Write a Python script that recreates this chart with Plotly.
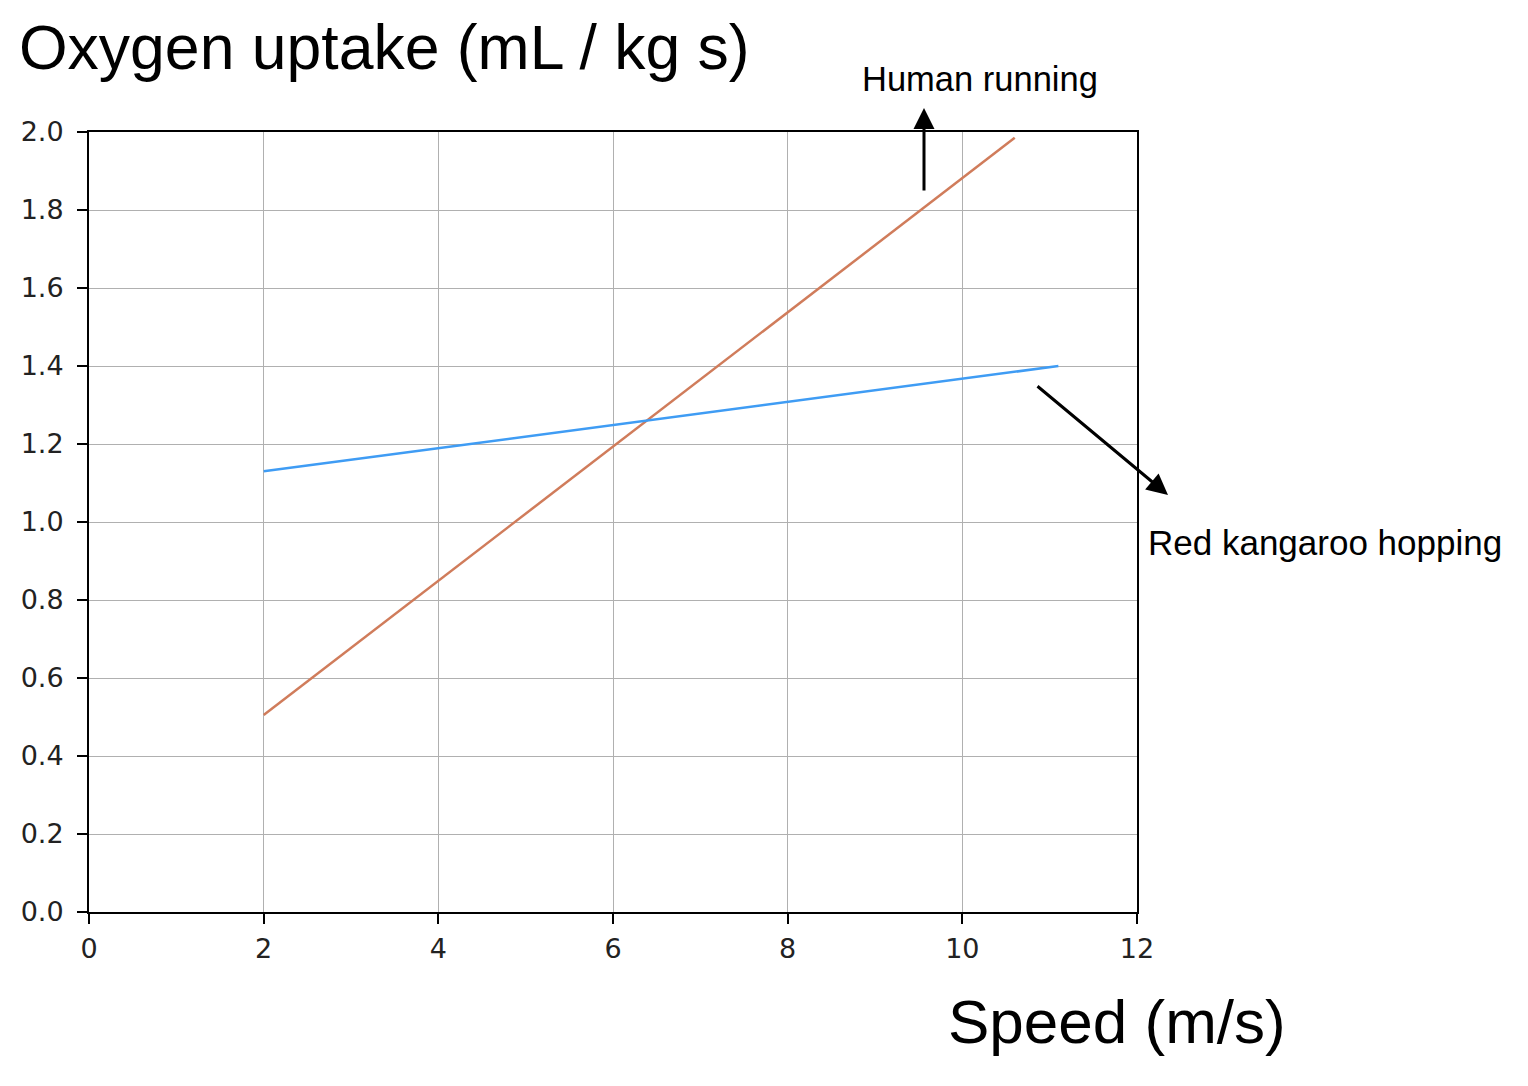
import plotly.graph_objects as go

# Data
speed_human = [2.0, 10.6]
o2_human = [0.505, 1.985]
speed_kangaroo = [2.0, 11.1]
o2_kangaroo = [1.13, 1.40]

x_ticks = [0, 2, 4, 6, 8, 10, 12]
y_ticks = [0.0, 0.2, 0.4, 0.6, 0.8, 1.0, 1.2, 1.4, 1.6, 1.8, 2.0]

OFF = 8  # page body margin
W, H = 1528 - OFF, 1086 - OFF
L, R, T, B = 89 - OFF, 1137 - OFF, 132 - OFF, 912 - OFF

def px(x):
    return (x - OFF - L) / (R - L)

def py(y):
    return (B - (y - OFF)) / (B - T)

fig = go.Figure()
fig.add_trace(go.Scatter(x=speed_human, y=o2_human, mode="lines",
                         line=dict(color="#d07c5b", width=2.5), showlegend=False))
fig.add_trace(go.Scatter(x=speed_kangaroo, y=o2_kangaroo, mode="lines",
                         line=dict(color="#3f9cf4", width=2.5), showlegend=False))

tick_font = dict(family="DejaVu Sans", size=27, color="#222222")
label_font = "Liberation Sans, Arial, Helvetica, sans-serif"

axis_common = dict(showgrid=True, gridcolor="#b0b0b0", gridwidth=1, zeroline=False,
                   showline=True, linecolor="black", linewidth=2, mirror=True,
                   ticks="outside", ticklen=10, tickwidth=2, tickcolor="black",
                   tickfont=tick_font)

fig.update_layout(
    width=W, height=H,
    margin=dict(l=L, r=W - R, t=T, b=H - B),
    paper_bgcolor="white", plot_bgcolor="white",
    xaxis=dict(range=[0, 12], tickvals=x_ticks, ticktext=[str(v) for v in x_ticks],
               ticklabelstandoff=2, **axis_common),
    yaxis=dict(range=[0, 2.0], tickvals=y_ticks, ticktext=[f"{v:.1f}" for v in y_ticks],
               ticklabelstandoff=8, **axis_common),
)

annotations = [
    dict(text="Oxygen uptake (mL / kg s)", xref="paper", yref="paper",
         x=px(17), y=py(47), xanchor="left", yanchor="middle", showarrow=False,
         font=dict(family=label_font, size=62.5, color="black")),
    dict(text="Speed (m/s)", xref="paper", yref="paper",
         x=px(946), y=py(1021), xanchor="left", yanchor="middle", showarrow=False,
         font=dict(family=label_font, size=62, color="black")),
    dict(text="Human running", xref="paper", yref="paper",
         x=px(980), y=py(79), xanchor="center", yanchor="middle", showarrow=False,
         font=dict(family=label_font, size=34.5, color="black")),
    dict(text="Red kangaroo hopping", xref="paper", yref="paper",
         x=px(1146), y=py(542), xanchor="left", yanchor="middle", showarrow=False,
         font=dict(family=label_font, size=35, color="black")),
    # arrows
    dict(text="", xref="paper", yref="paper", axref="pixel", ayref="pixel",
         x=px(924), y=py(108), ax=0, ay=84, showarrow=True,
         arrowhead=2, arrowsize=1.4, arrowwidth=3, arrowcolor="black"),
    dict(text="", xref="paper", yref="paper", axref="pixel", ayref="pixel",
         x=px(1168), y=py(495), ax=-132, ay=-110, showarrow=True,
         arrowhead=2, arrowsize=1.4, arrowwidth=3, arrowcolor="black"),
]
fig.update_layout(annotations=annotations)

fig.write_html("out.html")
